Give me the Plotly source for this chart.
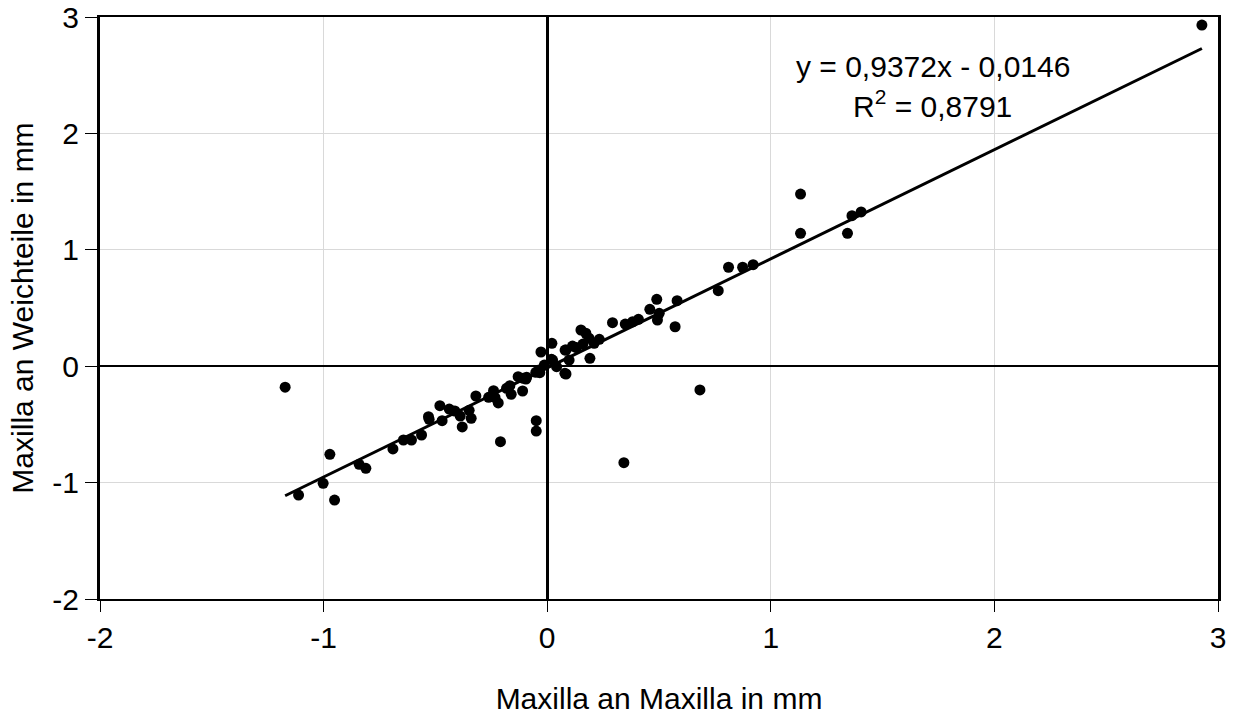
import plotly.graph_objects as go

x_vals = [-1.172, -0.972, -1.002, -1.112, -0.951, -0.841, -0.811, -0.69, -0.643, -0.607,
          -0.562, -0.531, -0.528, -0.48, -0.47, -0.438, -0.413, -0.389, -0.38, -0.349,
          -0.34, -0.319, -0.262, -0.24, -0.233, -0.219, -0.209, -0.182, -0.161, -0.167,
          -0.13, -0.11, -0.095, -0.051, -0.049, -0.049, -0.028, -0.033, -0.013, 0.021,
          0.024, 0.079, 0.084, -0.107, -0.092, -0.036, 0.019, 0.042, 0.08, 0.084,
          0.098, 0.113, 0.151, 0.173, 0.187, 0.191, 0.21, 0.233, 0.13, 0.16,
          0.292, 0.349, 0.343, 0.382, 0.408, 0.459, 0.49, 0.493, 0.501, 0.572,
          0.581, 0.683, 0.765, 0.811, 0.874, 0.921, 1.133, 1.133, 1.343, 1.363,
          1.404, 2.928]
y_vals = [-0.18, -0.757, -1.006, -1.107, -1.15, -0.843, -0.877, -0.711, -0.634, -0.634,
          -0.591, -0.434, -0.456, -0.339, -0.468, -0.368, -0.385, -0.428, -0.522, -0.379,
          -0.448, -0.256, -0.267, -0.21, -0.27, -0.316, -0.648, -0.19, -0.242, -0.167,
          -0.09, -0.213, -0.11, -0.053, -0.468, -0.557, 0.122, -0.056, 0.01, 0.197,
          0.053, -0.061, 0.139, -0.104, -0.095, -0.033, 0.059, -0.004, 0.139, -0.067,
          0.053, 0.173, 0.311, 0.283, 0.24, 0.068, 0.197, 0.231, 0.16, 0.19,
          0.374, 0.362, -0.829, 0.382, 0.403, 0.489, 0.575, 0.397, 0.454, 0.339,
          0.563, -0.204, 0.649, 0.85, 0.85, 0.872, 1.479, 1.142, 1.142, 1.293,
          1.325, 2.931]

slope = 0.9372
intercept = -0.0146
fit_x = [min(x_vals), max(x_vals)]
fit_y = [slope * v + intercept for v in fit_x]

tick_vals = [-2, -1, 0, 1, 2, 3]
tick_text = ["-2", "-1", "0", "1", "2", "3"]

fig = go.Figure()
fig.add_trace(go.Scatter(x=x_vals, y=y_vals, mode="markers",
                         marker=dict(color="black", size=11), showlegend=False))
fig.add_trace(go.Scatter(x=fit_x, y=fit_y, mode="lines",
                         line=dict(color="black", width=3), showlegend=False))

font_family = "Liberation Sans, Arial, sans-serif"
fs = 30
fig.update_layout(
    width=1238, height=716,
    margin=dict(l=100, r=20, t=17, b=117),
    paper_bgcolor="white", plot_bgcolor="white",
    font=dict(family=font_family, size=fs, color="black"),
    annotations=[
        dict(x=0.745, y=0.915, xref="paper", yref="paper", text="y = 0,9372x - 0,0146",
             xanchor="center", yanchor="middle",
             showarrow=False, font=dict(size=fs, family=font_family)),
        dict(x=0.745, y=0.85, xref="paper", yref="paper", text="R<sup>2</sup> = 0,8791",
             xanchor="center", yanchor="middle",
             showarrow=False, font=dict(size=fs, family=font_family)),
    ],
)
fig.update_xaxes(range=[-2, 3], tickvals=tick_vals, ticktext=tick_text,
                 tickfont=dict(size=fs, family=font_family),
                 showline=True, linecolor="black", linewidth=2, mirror=True,
                 ticks="outside", ticklen=11, tickcolor="black", tickwidth=1,
                 showgrid=True, gridcolor="#d9d9d9", gridwidth=1,
                 zeroline=True, zerolinecolor="black", zerolinewidth=3,
                 automargin=False,
                 title=dict(text="Maxilla an Maxilla in mm", standoff=35,
                            font=dict(size=fs, family=font_family)))
fig.update_yaxes(range=[-2, 3], tickvals=tick_vals, ticktext=tick_text,
                 tickfont=dict(size=fs, family=font_family),
                 showline=True, linecolor="black", linewidth=3, mirror=True,
                 ticks="outside", ticklen=12, tickcolor="black", tickwidth=1,
                 showgrid=True, gridcolor="#d9d9d9", gridwidth=1,
                 zeroline=True, zerolinecolor="black", zerolinewidth=2,
                 automargin=False,
                 title=dict(text="Maxilla an Weichteile in mm", standoff=10,
                            font=dict(size=fs, family=font_family)))

fig.write_html("out.html")
